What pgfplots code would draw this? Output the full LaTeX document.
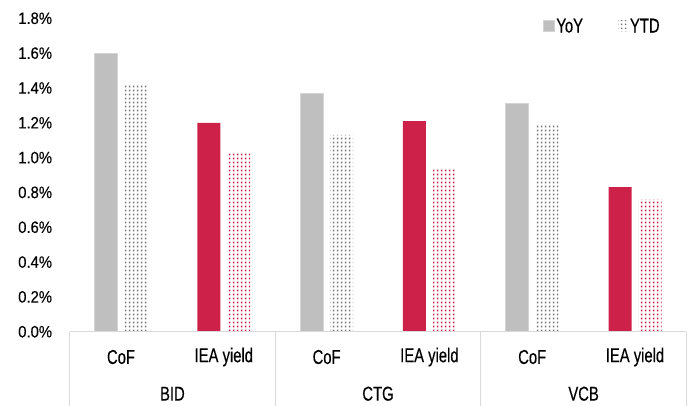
\documentclass[border=0pt]{standalone}
\usepackage{fontspec}
\setmainfont{Liberation Sans}
\newfontfamily\tickfont[FakeStretch=0.9,FakeBold=0.15]{Liberation Sans}
\newfontfamily\catfont[FakeStretch=0.74,FakeBold=0.3]{Liberation Sans}
\usepackage{pgfplots}
\pgfplotsset{compat=1.18}
\usetikzlibrary{patterns}
\definecolor{cgrey}{HTML}{BFBFBF}
\definecolor{cgreyedge}{HTML}{D4D4D4}
\definecolor{cdot}{HTML}{777777}
\definecolor{cred}{HTML}{CE2149}
\definecolor{cline}{HTML}{D9D9D9}
\pgfdeclarepatternformonly{xdots}{\pgfpointorigin}{\pgfpoint{4pt}{3.5pt}}{\pgfpoint{4pt}{3.5pt}}{%
 \pgfpathrectangle{\pgfpoint{1pt}{0.8pt}}{\pgfpoint{1.9pt}{1.8pt}}%
 \pgfusepath{fill}}
\pgfplotsset{
  sqlegend/.style={legend image code/.code={\fill[##1] (0pt,-5.5pt) rectangle (11pt,5.5pt);}},
  dotlegend/.style={legend image code/.code={\fill[##1] (0pt,-5.5pt) rectangle (10pt,5.5pt);}},
}
\pgfplotstableread{
x yoy ytd
0 1.60 1.42
2 1.37 1.13
4 1.31 1.19
}\cof
\pgfplotstableread{
x yoy ytd
1 1.20 1.03
3 1.21 0.94
5 0.83 0.76
}\iea
\begin{document}
\begin{tikzpicture}
\path[use as bounding box] (0,0) rectangle (695pt,405pt);
\begin{axis}[
 at={(69.6pt,73.3pt)}, anchor=south west,
 scale only axis, width=616.8pt, height=313.4pt,
 xmin=-0.5, xmax=5.5, ymin=0, ymax=1.8,
 axis line style={draw=none},
 xtick=\empty,
 ytick={0,0.2,0.4,0.6,0.8,1.0,1.2,1.4,1.6,1.8},
 major tick length=0pt,
 /pgf/number format/assume math mode=true,
 yticklabel={\pgfmathprintnumber[fixed,fixed zerofill,precision=1]{\tick}\%},
 yticklabel style={font=\tickfont\fontsize{16.5}{18}\selectfont, xshift=-14pt},
 clip=false,
 legend columns=2,
 legend style={at={(0.965,1.012)}, anchor=north east, draw=none, fill=none,
   font=\catfont\fontsize{20}{22}\selectfont,
   /tikz/every even column/.append style={column sep=33pt}},
]
\addplot[ybar, bar width=23pt, bar shift=-15pt, fill=cgrey, draw=cgreyedge, line width=0.8pt, sqlegend]
  table[x=x,y=yoy]{\cof};
\addlegendentry{YoY}
\addplot[ybar, bar width=23pt, bar shift=15pt, pattern=xdots, pattern color=cdot, draw=none, dotlegend]
  table[x=x,y=ytd]{\cof};
\addlegendentry{YTD}
\addplot[ybar, bar width=23pt, bar shift=-15pt, fill=cred, draw=none, forget plot]
  table[x=x,y=yoy]{\iea};
\addplot[ybar, bar width=23pt, bar shift=15pt, pattern=xdots, pattern color=cred, draw=none, forget plot]
  table[x=x,y=ytd]{\iea};
% category box
\draw[cline, line width=1.3pt] (axis cs:-0.5,0) -- (axis cs:5.5,0);
\draw[cline, line width=1.3pt] (axis cs:-0.5,0) -- ([yshift=-74pt]axis cs:-0.5,0);
\draw[cline, line width=1.3pt] (axis cs:1.5,0) -- ([yshift=-74pt]axis cs:1.5,0);
\draw[cline, line width=1.3pt] (axis cs:3.5,0) -- ([yshift=-74pt]axis cs:3.5,0);
\draw[cline, line width=1.3pt] (axis cs:5.5,0) -- ([yshift=-74pt]axis cs:5.5,0);
\tikzset{catlab/.style={font=\catfont\fontsize{20}{22}\selectfont, anchor=center, inner sep=0pt}}
\node[catlab] at ([yshift=-25.3pt]axis cs:0,0) {CoF};
\node[catlab] at ([yshift=-25.3pt]axis cs:1,0) {IEA yield};
\node[catlab] at ([yshift=-25.3pt]axis cs:2,0) {CoF};
\node[catlab] at ([yshift=-25.3pt]axis cs:3,0) {IEA yield};
\node[catlab] at ([yshift=-25.3pt]axis cs:4,0) {CoF};
\node[catlab] at ([yshift=-25.3pt]axis cs:5,0) {IEA yield};
\node[catlab] at ([yshift=-62pt]axis cs:0.5,0) {BID};
\node[catlab] at ([yshift=-62pt]axis cs:2.5,0) {CTG};
\node[catlab] at ([yshift=-62pt]axis cs:4.5,0) {VCB};
\end{axis}
\end{tikzpicture}
\end{document}
